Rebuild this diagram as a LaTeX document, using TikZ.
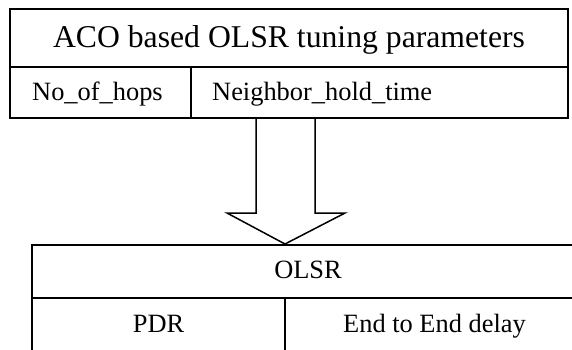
\documentclass[tikz,border=0pt]{standalone}
\usepackage{fontspec}
\setmainfont{Liberation Serif}
\begin{document}
\begin{tikzpicture}[x=1pt,y=-1pt,
  cell/.style={draw, line width=1.5pt, rectangle, inner sep=0pt, outer sep=0pt},
  lbl/.style={inner sep=0pt, anchor=base},
  big/.style={font=\fontsize{31.7}{34}\selectfont},
  small/.style={font=\fontsize{26.4}{29}\selectfont}]
\useasboundingbox (0,0) rectangle (572,349);
\clip (0,0) rectangle (572,349);
% top box
\node[cell, minimum width=558pt, minimum height=58pt] (title) at (289,38) {};
\node[lbl, big] (titletext) at (289,47.5) {ACO based OLSR tuning parameters};
\node[cell, minimum width=181pt, minimum height=51pt] (hops) at (100.5,92.5) {};
\node[cell, minimum width=377pt, minimum height=51pt] (nbr) at (379.5,92.5) {};
\node[lbl, anchor=base west, small] (hopstext) at (32,100) {No\_of\_hops};
\node[lbl, anchor=base west, small] (nbrtext) at (212,100) {Neighbor\_hold\_time};
% bottom box
\node[cell, minimum width=552pt, minimum height=53pt] (olsr) at (308,271.5) {};
\node[lbl, small] (olsrtext) at (308,278) {OLSR};
\node[cell, minimum width=253pt, minimum height=54pt] (pdr) at (158.5,325) {};
\node[cell, minimum width=299pt, minimum height=54pt] (e2e) at (434.5,325) {};
\node[lbl, small] (pdrtext) at (158.5,332) {PDR};
\node[lbl, small] (e2etext) at (434.5,332) {End to End delay};
% arrow
\coordinate (tip) at (285,244);
\draw[line width=1.5pt, line join=miter]
  (256,118) -- (256,213) -- (227,213) -- (tip) -- (345,213) -- (315,213) -- (315,118);
\end{tikzpicture}
\end{document}
